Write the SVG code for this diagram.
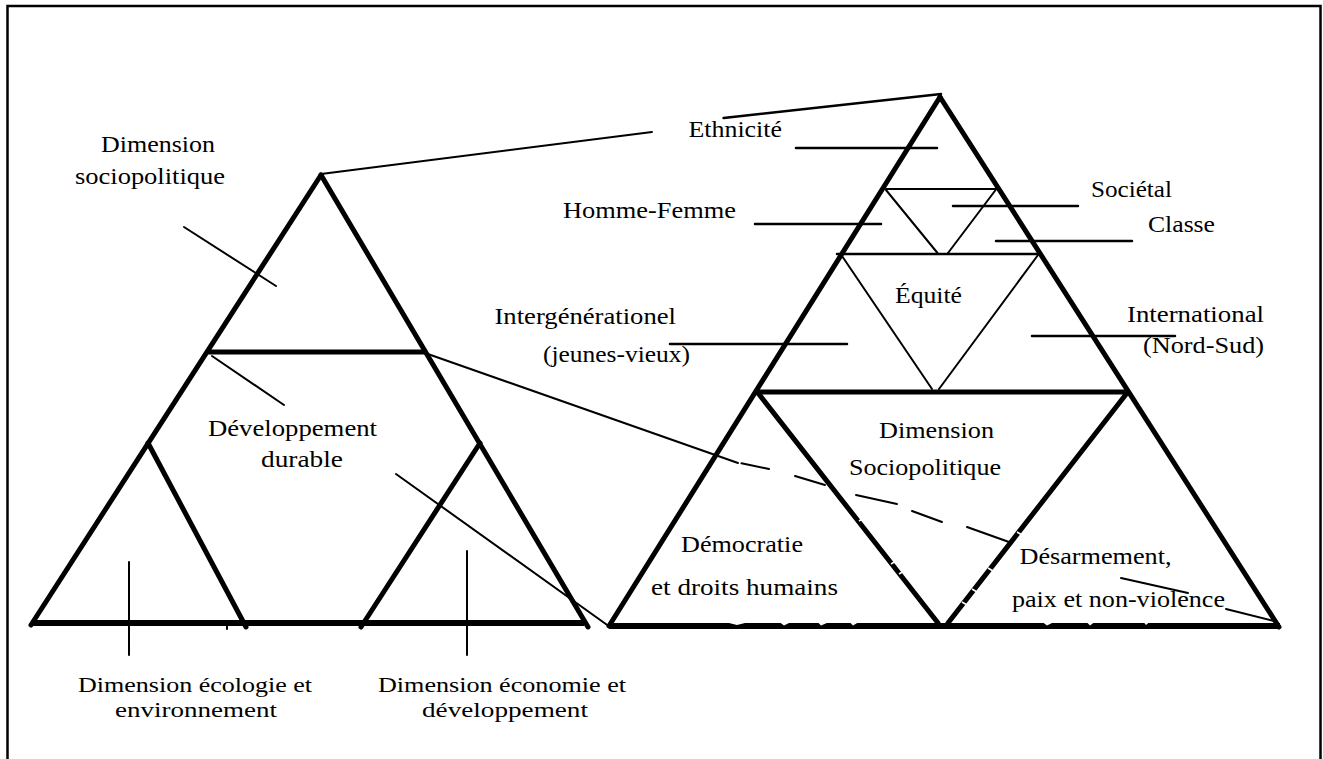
<svg xmlns="http://www.w3.org/2000/svg" width="1323" height="759" viewBox="0 0 1323 759">
<style>
.k{stroke:#000;fill:none;stroke-linecap:round;stroke-linejoin:round}
.thick{stroke-width:5}
.base{stroke-width:6;stroke-linecap:butt}
.thin{stroke-width:2}
.mid{stroke-width:2.5}
.t{font-family:"Liberation Serif","Times New Roman",serif;font-size:24px;fill:#000}
.s{font-size:21.5px}
.notch{fill:#fff;stroke:none}
</style>
<rect x="7.5" y="6" width="1313" height="800" fill="#fff" stroke="#000" stroke-width="2.5"/>

<g id="left-pyramid">
  <line class="k thick" x1="321" y1="175" x2="31" y2="625"/>
  <line class="k thick" x1="321" y1="175" x2="588" y2="627"/>
  <line class="k thick" x1="209" y1="352" x2="425" y2="352"/>
  <line class="k base" x1="31" y1="623" x2="584" y2="623"/>
  <line class="k thick" x1="148" y1="443" x2="246" y2="627"/>
  <line class="k thick" x1="480" y1="443" x2="361" y2="627"/>
  <line class="k thin" x1="227" y1="624" x2="227" y2="629"/>
</g>

<g id="right-pyramid">
  <line class="k thick" x1="940" y1="97" x2="609" y2="626"/>
  <line class="k thick" x1="940" y1="97" x2="1279" y2="627"/>
  <line class="k thick" x1="757" y1="392" x2="1128" y2="392"/>
  <line class="k base" x1="609" y1="626" x2="1280" y2="626"/>
  <line class="k thick" x1="758" y1="393" x2="938" y2="623"/>
  <line class="k thick" x1="1127" y1="393" x2="948" y2="623"/>
  <polygon class="notch" points="727,622.5 747,622.5 737,625"/>
  <polygon class="notch" points="780,622.5 790,622.5 784,625.5"/>
  <polygon class="notch" points="818,622.5 828,622.5 821,625.5"/>
  <polygon class="notch" points="850,622.5 858,622.5 853,625.5"/>
  <polygon class="notch" points="1043,622.5 1053,622.5 1047,625.5"/>
  <polygon class="notch" points="1087,622.5 1094,622.5 1090,625.5"/>
  <polygon class="notch" points="1144,622.5 1149,622.5 1146,625"/>
  <line stroke="#fff" stroke-width="1.5" x1="859" y1="521" x2="864" y2="518"/>
  <line stroke="#fff" stroke-width="1.5" x1="891" y1="564" x2="896" y2="561"/>
  <line stroke="#fff" stroke-width="1.5" x1="899" y1="574" x2="904" y2="571"/>
  <line stroke="#fff" stroke-width="1.5" x1="1017" y1="532" x2="1022" y2="535"/>
  <line stroke="#fff" stroke-width="1.5" x1="988" y1="568" x2="993" y2="571"/>
  <line stroke="#fff" stroke-width="1.5" x1="972" y1="589" x2="977" y2="592"/>
  <line stroke="#fff" stroke-width="1.5" x1="962" y1="602" x2="967" y2="605"/>
</g>

<g id="equity-triangles">
  <line class="k thin" x1="886" y1="189" x2="996" y2="189"/>
  <line class="k mid" x1="837" y1="254" x2="1038" y2="254"/>
  <line class="k thin" x1="886" y1="190" x2="937.5" y2="253"/>
  <line class="k thin" x1="995.6" y1="190" x2="948" y2="253"/>
  <line class="k thin" x1="842" y1="256" x2="932" y2="389"/>
  <line class="k thin" x1="1038" y1="255" x2="939" y2="389"/>
</g>

<g id="connectors">
  <line class="k thin" x1="321" y1="174" x2="652" y2="132"/>
  <line class="k mid" x1="723.6" y1="118" x2="941" y2="94"/>
  <line class="k thin" x1="184" y1="227" x2="276" y2="286"/>
  <line class="k thin" x1="212" y1="356" x2="284" y2="405"/>
  <line class="k thin" x1="396" y1="474" x2="610" y2="627"/>
  <line class="k thin" x1="129" y1="562" x2="129" y2="655"/>
  <line class="k thin" x1="467" y1="551" x2="467" y2="655"/>
  <line class="k thin" x1="425" y1="353" x2="738" y2="463"/>
  <line class="k thin" x1="741.5" y1="463.3" x2="769" y2="469"/>
  <line class="k thin" x1="795" y1="476" x2="825" y2="485"/>
  <line class="k thin" x1="856" y1="495" x2="897" y2="504"/>
  <line class="k thin" x1="912" y1="511" x2="942" y2="522"/>
  <line class="k thin" x1="967" y1="527" x2="1009" y2="542"/>
  <line class="k mid" x1="796" y1="148" x2="937" y2="148"/>
  <line class="k mid" x1="755" y1="224" x2="881" y2="224"/>
  <line class="k mid" x1="953" y1="206" x2="1078" y2="206"/>
  <line class="k mid" x1="996" y1="241" x2="1132" y2="241"/>
  <line class="k mid" x1="670" y1="344" x2="847" y2="344"/>
  <line class="k mid" x1="1032" y1="336" x2="1175" y2="336"/>
  <line class="k thin" x1="1121" y1="578" x2="1188" y2="593"/>
  <line class="k thin" x1="1226" y1="609" x2="1274" y2="621"/>
</g>

<g id="label-dim-sociopolitique"><text class="t" x="101" y="152" textLength="114" lengthAdjust="spacingAndGlyphs">Dimension</text><text class="t" x="75" y="184" textLength="150" lengthAdjust="spacingAndGlyphs">sociopolitique</text></g>
<g id="label-dev-durable"><text class="t" x="208" y="436" textLength="169" lengthAdjust="spacingAndGlyphs">Développement</text><text class="t" x="261" y="467" textLength="82" lengthAdjust="spacingAndGlyphs">durable</text></g>
<g id="label-ecologie"><text class="t s" x="78" y="692" textLength="234" lengthAdjust="spacingAndGlyphs">Dimension écologie et</text><text class="t s" x="115" y="717" textLength="162" lengthAdjust="spacingAndGlyphs">environnement</text></g>
<g id="label-economie"><text class="t s" x="378" y="692" textLength="248" lengthAdjust="spacingAndGlyphs">Dimension économie et</text><text class="t s" x="422" y="717" textLength="166" lengthAdjust="spacingAndGlyphs">développement</text></g>
<g id="label-ethnicite"><text class="t" x="688.5" y="137" textLength="93.5" lengthAdjust="spacingAndGlyphs">Ethnicité</text></g>
<g id="label-homme-femme"><text class="t" x="563" y="218" textLength="173" lengthAdjust="spacingAndGlyphs">Homme-Femme</text></g>
<g id="label-societal"><text class="t" x="1091" y="197" textLength="81" lengthAdjust="spacingAndGlyphs">Sociétal</text></g>
<g id="label-classe"><text class="t" x="1148" y="232" textLength="67" lengthAdjust="spacingAndGlyphs">Classe</text></g>
<g id="label-equite"><text class="t" x="895" y="303" textLength="67" lengthAdjust="spacingAndGlyphs">Équité</text></g>
<g id="label-intergenerationel"><text class="t" x="494.5" y="324" textLength="181.5" lengthAdjust="spacingAndGlyphs">Intergénérationel</text><text class="t" x="543" y="362" textLength="147" lengthAdjust="spacingAndGlyphs">(jeunes-vieux)</text></g>
<g id="label-international"><text class="t" x="1127" y="322" textLength="137" lengthAdjust="spacingAndGlyphs">International</text><text class="t" x="1143" y="353" textLength="121" lengthAdjust="spacingAndGlyphs">(Nord-Sud)</text></g>
<g id="label-dim-sociopolitique-2"><text class="t" x="879" y="438" textLength="115" lengthAdjust="spacingAndGlyphs">Dimension</text><text class="t" x="849" y="475" textLength="152" lengthAdjust="spacingAndGlyphs">Sociopolitique</text></g>
<g id="label-democratie"><text class="t" x="681" y="552" textLength="122" lengthAdjust="spacingAndGlyphs">Démocratie</text><text class="t" x="651" y="595" textLength="187" lengthAdjust="spacingAndGlyphs">et droits humains</text></g>
<g id="label-desarmement"><text class="t" x="1019.5" y="564" textLength="152" lengthAdjust="spacingAndGlyphs">Désarmement,</text><text class="t" x="1012" y="607" textLength="213" lengthAdjust="spacingAndGlyphs">paix et non-violence</text></g>
</svg>
